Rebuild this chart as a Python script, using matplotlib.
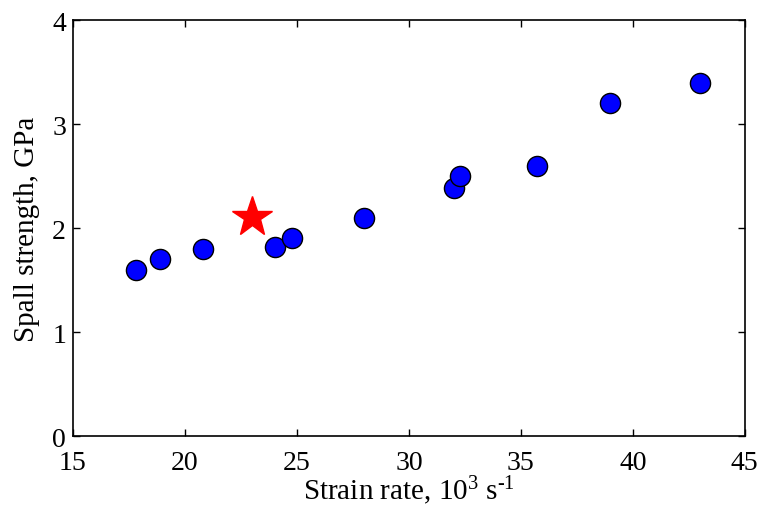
import matplotlib
matplotlib.use('Agg')
import matplotlib.pyplot as plt

# spall strength vs strain rate
strain_rate = [17.8, 18.9, 20.8, 24.0, 24.8, 28.0, 32.0, 32.3, 35.7, 39.0, 43.0]
spall = [1.6, 1.7, 1.8, 1.82, 1.91, 2.1, 2.39, 2.5, 2.6, 3.2, 3.4]
star_rate = [23.0]
star_spall = [2.11]

xticks = [15, 20, 25, 30, 35, 40, 45]
yticks = [0, 1, 2, 3, 4]

plt.rcParams['font.family'] = ['Liberation Serif', 'DejaVu Serif']
plt.rcParams['mathtext.fontset'] = 'custom'
plt.rcParams['mathtext.rm'] = 'Liberation Serif'
plt.rcParams['mathtext.it'] = 'Liberation Serif:italic'

fig = plt.figure(figsize=(7.6, 5.06), dpi=100)
ax = fig.add_axes([0.096, 0.136, 0.884, 0.822])

ax.plot(strain_rate, spall, linestyle='none', marker='o', markersize=14.5,
        markerfacecolor='#0000ff', markeredgecolor='black', markeredgewidth=1.0)
ax.plot(star_rate, star_spall, linestyle='none', marker='*', markersize=30,
        markerfacecolor='red', markeredgecolor='red')

ax.set_xlim(15, 45)
ax.set_ylim(0, 4)
ax.set_xticks(xticks)
ax.set_yticks(yticks)
ax.tick_params(direction='in', length=5, width=1, top=True, right=True,
               labelsize=20)
ax.tick_params(axis='x', pad=10)
ax.tick_params(axis='y', pad=5)
for s in ax.spines.values():
    s.set_linewidth(1.2)

ax.set_xlabel(r'Strain rate, 10$^{3}$ s$^{\text{-}1}$', fontsize=21, labelpad=-1)
ax.set_ylabel('Spall strength, GPa', fontsize=21, labelpad=9)

fig.savefig('out.png', dpi=100)
